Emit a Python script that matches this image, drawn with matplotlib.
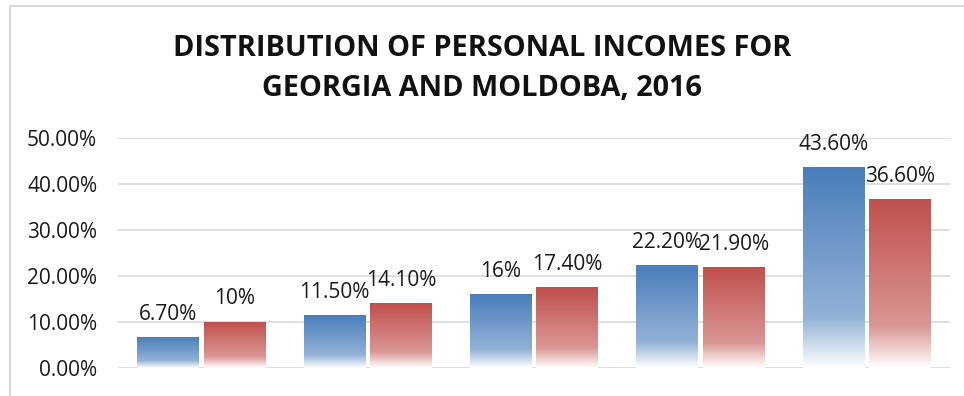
import numpy as np
import matplotlib
matplotlib.use("Agg")
import matplotlib.pyplot as plt
from matplotlib.patches import Rectangle
from matplotlib.colors import to_rgb

# Income distribution shares (quintiles) for the two countries
groups = ["1", "2", "3", "4", "5"]
georgia = [6.70, 11.50, 16.00, 22.20, 43.60]
moldova = [10.00, 14.10, 17.40, 21.90, 36.60]
georgia_labels = ["6.70%", "11.50%", "16%", "22.20%", "43.60%"]
moldova_labels = ["10%", "14.10%", "17.40%", "21.90%", "36.60%"]
yticks = [0, 10, 20, 30, 40, 50]
ytick_labels = ["0.00%", "10.00%", "20.00%", "30.00%", "40.00%", "50.00%"]
title = "DISTRIBUTION OF PERSONAL INCOMES FOR\nGEORGIA AND MOLDOBA, 2016"

W, H = 964, 396
fig = plt.figure(figsize=(W / 100, H / 100), dpi=100)
fig.patch.set_facecolor("white")

# chart frame border (left/top edges visible)
fig.patches.append(Rectangle((10 / W, -0.1), 1.2, (H - 6) / H + 0.1,
                             transform=fig.transFigure, fill=False,
                             edgecolor="#d9d9d9", linewidth=1.5))

ax = fig.add_axes([118 / W, 28 / H, (950 - 118) / W, (368 - 138) / H])
ax.set_xlim(-0.5, len(groups) - 0.5)
ax.set_ylim(0, 50)
for s in ax.spines.values():
    s.set_visible(False)
ax.set_xticks([])
ax.set_yticks(yticks)
ax.set_yticklabels(ytick_labels, fontsize=15, fontfamily="Open Sans", color="#1a1a1a")
ax.tick_params(axis="y", length=0, pad=15)
for t in yticks:
    ax.axhline(t, color="#dcdcdc", linewidth=1.3, zorder=0)


def gradient_column(top_rgb, n=200):
    """Vertical fill: full colour at top, lighter downwards, fading to white at the base."""
    top = np.array(to_rgb(top_rgb))
    light = top + (1 - top) * 0.4
    pos = np.linspace(1, 0, n)  # 1 = top, 0 = base
    col = np.empty((n, 1, 3))
    for i, p in enumerate(pos):
        if p > 0.25:
            f = (1 - p) / 0.75
            c = top * (1 - f) + light * f
        else:
            f = (0.25 - p) / 0.25
            c = light * (1 - f) + np.ones(3) * f
        col[i, 0] = c
    return col


def gradient_bar(x, h, width, color):
    img = gradient_column(color)
    ax.imshow(img, extent=[x - width / 2, x + width / 2, 0, h], aspect="auto",
              interpolation="bilinear", zorder=2)


width = 0.37
off = 0.2
xs = np.arange(len(groups))
for i, x in enumerate(xs):
    gradient_bar(x - off, georgia[i], width, "#4a7ebb")
    gradient_bar(x + off, moldova[i], width, "#c0504d")
    ax.text(x - off, georgia[i] + 5.0, georgia_labels[i], ha="center", va="center",
            fontsize=15, fontfamily="Open Sans", color="#1a1a1a")
    ax.text(x + off, moldova[i] + 5.0, moldova_labels[i], ha="center", va="center",
            fontsize=15, fontfamily="Open Sans", color="#1a1a1a")

ax.set_xlim(-0.5, len(groups) - 0.5)
ax.set_ylim(0, 50)

fig.text(0.5, 1 - 68 / H, title, ha="center", va="center", fontsize=20.8,
         fontweight="bold", fontfamily="Open Sans", color="#111111", linespacing=1.5)

fig.savefig("out.png", dpi=100)
